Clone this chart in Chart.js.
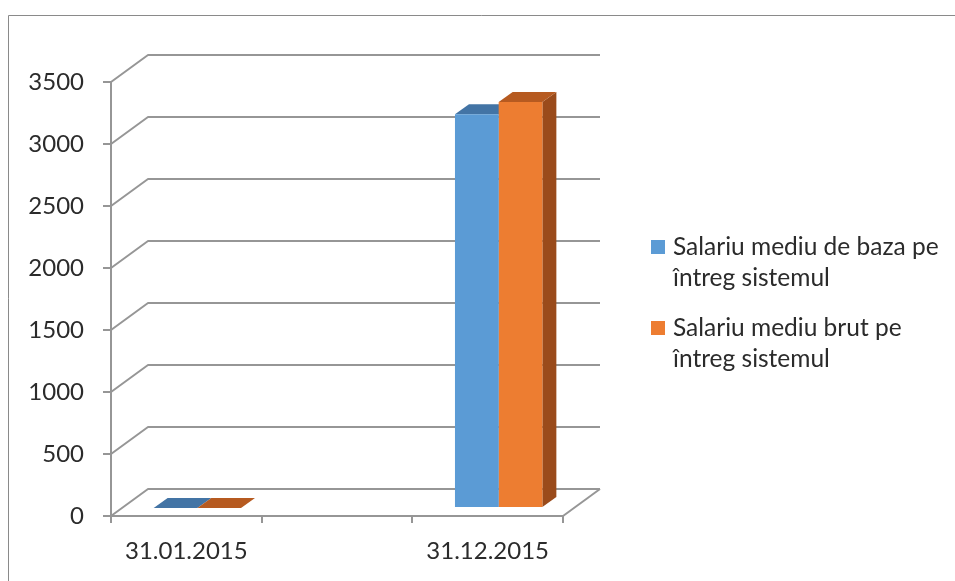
<!DOCTYPE html>
<html>
<head>
<meta charset="utf-8">
<script src="https://cdn.jsdelivr.net/npm/chart.js@4/dist/chart.umd.min.js"></script>
<style>
	html, body { margin: 0; padding: 0; background: #fff; }
	#wrap { width: 955px; height: 581px; position: relative; }
</style>
</head>
<body>
<div id="wrap"><canvas id="chartSal"></canvas></div>
<script>
'use strict'

// data
const categories = ['31.01.2015', '', '31.12.2015'];
const salBaza = [0, null, 3175];
const salBrut = [0, null, 3275];
const legendLines = [
	['Salariu mediu de baza pe', 'întreg sistemul'],
	['Salariu mediu brut pe', 'întreg sistemul'],
];
const yTicks = [0, 500, 1000, 1500, 2000, 2500, 3000, 3500];

const colors = {
	blue: '#5B9BD5',
	blueTop: '#4374A5',
	blueSide: '#3D6890',
	orange: '#ED7D31',
	orangeTop: '#B65A20',
	orangeSide: '#9A4B1B',
	grid: '#969696',
	text: '#2b2b2b',
};
const fontFamily = 'Lato, "Open Sans", sans-serif';

// depth of the box (back wall) and of the bars
const wallDepth = { dx: 37, dy: -27 };
const barShift = { dx: 11, dy: -8 };
const barDepth = { dx: 14, dy: -10 };

const topColors = [colors.blueTop, colors.orangeTop];
const sideColors = [colors.blueSide, colors.orangeSide];

const box3d = {
	id: 'box3d',
	beforeDraw(chart) {
		let ctx = chart.ctx;
		ctx.save();
		ctx.strokeStyle = '#8a8a8a';
		ctx.lineWidth = 1;
		ctx.beginPath();
		ctx.moveTo(8.5, 581);
		ctx.lineTo(8.5, 15.5);
		ctx.lineTo(955, 15.5);
		ctx.stroke();
		ctx.restore();
	},
	beforeDatasetsDraw(chart) {
		let ctx = chart.ctx;
		let y = chart.scales.y;
		let area = chart.chartArea;
		ctx.save();
		ctx.strokeStyle = colors.grid;
		ctx.lineWidth = 2;
		ctx.lineJoin = 'round';
		yTicks.forEach(v => {
			let py = y.getPixelForValue(v);
			ctx.beginPath();
			ctx.moveTo(area.left, py);
			ctx.lineTo(area.left + wallDepth.dx, py + wallDepth.dy);
			ctx.lineTo(area.right + wallDepth.dx, py + wallDepth.dy);
			ctx.stroke();
		});
		// floor right edge
		let p0 = y.getPixelForValue(0);
		ctx.beginPath();
		ctx.moveTo(area.right, p0);
		ctx.lineTo(area.right + wallDepth.dx, p0 + wallDepth.dy);
		ctx.stroke();
		ctx.restore();

		// bars sit inside the box
		ctx.save();
		ctx.translate(barShift.dx, barShift.dy);
		chart.data.datasets.forEach((ds, i) => {
			let meta = chart.getDatasetMeta(i);
			meta.data.forEach((bar, j) => {
				if (ds.data[j] === null) return;
				let l = bar.x - bar.width / 2;
				let r = bar.x + bar.width / 2;
				let t = bar.y;
				let b = bar.base;
				// side
				ctx.fillStyle = sideColors[i];
				ctx.beginPath();
				ctx.moveTo(r, t);
				ctx.lineTo(r + barDepth.dx, t + barDepth.dy);
				ctx.lineTo(r + barDepth.dx, b + barDepth.dy);
				ctx.lineTo(r, b);
				ctx.closePath();
				ctx.fill();
				// top
				ctx.fillStyle = topColors[i];
				ctx.beginPath();
				ctx.moveTo(l, t);
				ctx.lineTo(l + barDepth.dx, t + barDepth.dy);
				ctx.lineTo(r + barDepth.dx, t + barDepth.dy);
				ctx.lineTo(r, t);
				ctx.closePath();
				ctx.fill();
			});
		});
	},
	afterDatasetsDraw(chart) {
		chart.ctx.restore();
	},
	afterDraw(chart) {
		let ctx = chart.ctx;
		ctx.save();
		ctx.font = '24.5px ' + fontFamily;
		ctx.textBaseline = 'middle';
		ctx.textAlign = 'left';
		let rows = [247, 328];
		chart.data.datasets.forEach((ds, i) => {
			let cy = rows[i];
			ctx.fillStyle = ds.backgroundColor;
			ctx.fillRect(651, cy - 7, 14, 14);
			ctx.fillStyle = colors.text;
			legendLines[i].forEach((line, k) => {
				ctx.fillText(line, 673, cy + k * 31);
			});
		});
		ctx.restore();
	},
};

let chart = new Chart(document.getElementById('chartSal'), {
	type: 'bar',
	data: {
		labels: categories,
		datasets: [
			{
				label: legendLines[0].join(' '),
				data: salBaza,
				backgroundColor: colors.blue,
				categoryPercentage: 0.58,
				barPercentage: 1,
				clip: false,
			},
			{
				label: legendLines[1].join(' '),
				data: salBrut,
				backgroundColor: colors.orange,
				categoryPercentage: 0.58,
				barPercentage: 1,
				clip: false,
			},
		],
	},
	options: {
		responsive: true,
		maintainAspectRatio: false,
		animation: false,
		layout: {
			padding: { left: 0, top: 82, right: 392, bottom: 0 },
		},
		plugins: {
			legend: { display: false },
			tooltip: { enabled: false },
		},
		scales: {
			y: {
				min: 0,
				max: 3500,
				afterFit: (s) => { s.width = 111; },
				grid: {
					drawOnChartArea: false,
					tickLength: 8,
					color: colors.grid,
					lineWidth: 2,
				},
				border: { color: colors.grid, width: 2 },
				ticks: {
					stepSize: 500,
					padding: 19,
					color: colors.text,
					font: { family: fontFamily, size: 24 },
					callback: (v) => String(v),
				},
			},
			x: {
				afterFit: (s) => { s.height = 65; },
				grid: {
					drawOnChartArea: false,
					tickLength: 7,
					color: colors.grid,
					lineWidth: 2,
				},
				border: { color: colors.grid, width: 2 },
				ticks: {
					padding: 14,
					color: colors.text,
					font: { family: fontFamily, size: 24 },
					maxRotation: 0,
				},
			},
		},
	},
	plugins: [box3d],
});
</script>
</body>
</html>
